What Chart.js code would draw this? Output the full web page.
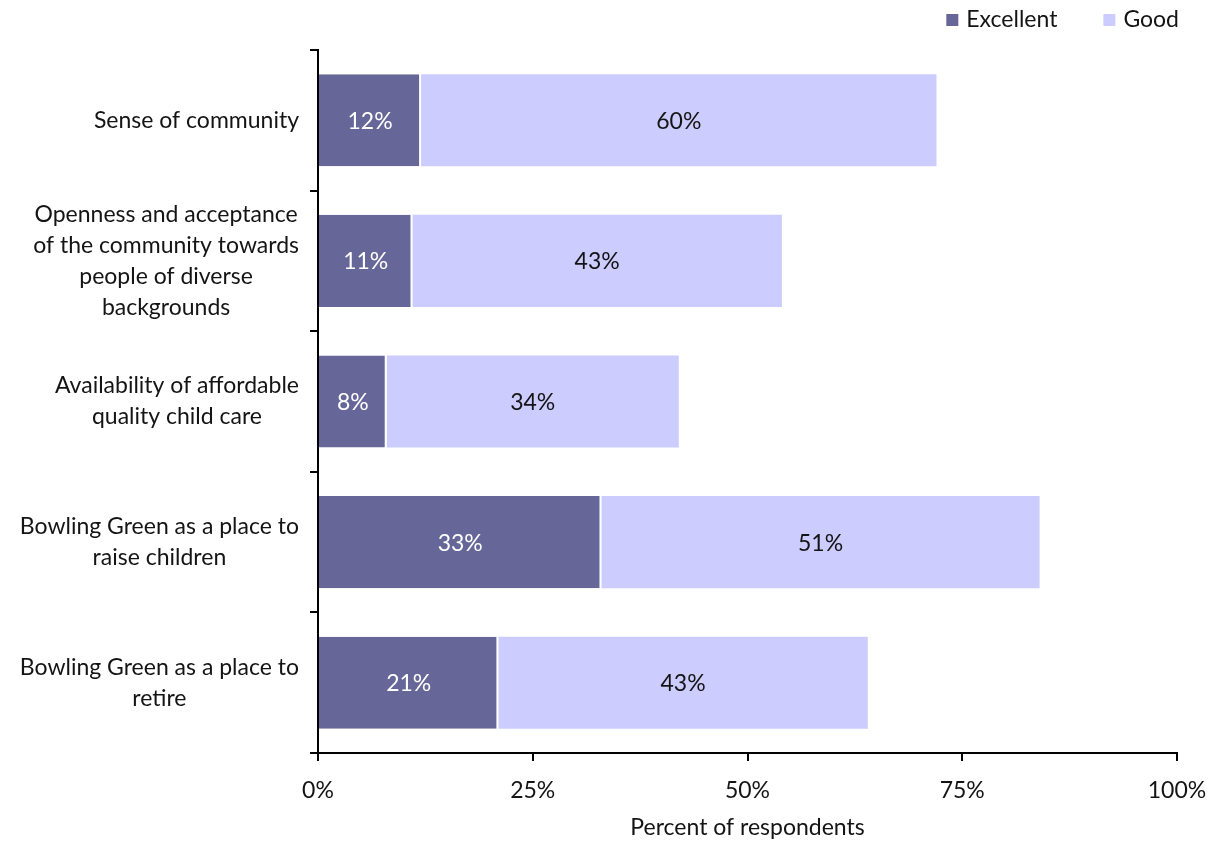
<!DOCTYPE html>
<html>
<head>
<meta charset="utf-8">
<script src="https://cdn.jsdelivr.net/npm/chart.js@4/dist/chart.umd.min.js"></script>
<style>
  html, body { margin: 0; padding: 0; background: #fff; }
  #wrap { width: 1217px; height: 841px; }
</style>
</head>
<body>
<div id="wrap"><canvas id="myChart" width="1217" height="841"></canvas></div>
<script>
const categories = [
  ['Sense of community'],
  ['Openness and acceptance', 'of the community towards', 'people of diverse', 'backgrounds'],
  ['Availability of affordable', 'quality child care'],
  ['Bowling Green as a place to', 'raise children'],
  ['Bowling Green as a place to', 'retire']
];
const excellent = [12, 11, 8, 33, 21];
const good = [60, 43, 34, 51, 43];
const xTicks = [0, 25, 50, 75, 100];

const FONT = 'Lato, "DejaVu Sans", sans-serif';
const SIZE = 23;
const INK = '#141414';

// category labels: block sits against the axis, each line centred inside it
const catLabels = {
  id: 'catLabels',
  afterDraw(chart) {
    const ctx = chart.ctx;
    const y = chart.scales.y;
    const right = chart.chartArea.left - 19;
    const lineH = 31;
    ctx.save();
    ctx.font = SIZE + 'px ' + FONT;
    ctx.fillStyle = INK;
    ctx.textAlign = 'center';
    ctx.textBaseline = 'middle';
    categories.forEach((lines, i) => {
      const w = Math.max(...lines.map(l => ctx.measureText(l).width));
      const cx = right - w / 2;
      const cy = y.getPixelForValue(i);
      lines.forEach((l, k) => {
        ctx.fillText(l, cx, cy + (k - (lines.length - 1) / 2) * lineH);
      });
    });
    ctx.restore();
  }
};

// value labels centred in every segment
const segLabels = {
  id: 'segLabels',
  afterDatasetsDraw(chart) {
    const ctx = chart.ctx;
    ctx.save();
    ctx.font = SIZE + 'px ' + FONT;
    ctx.textAlign = 'center';
    ctx.textBaseline = 'middle';
    chart.data.datasets.forEach((ds, di) => {
      const meta = chart.getDatasetMeta(di);
      ctx.fillStyle = di === 0 ? '#ffffff' : INK;
      meta.data.forEach((bar, i) => {
        const p = bar.getProps(['x', 'y', 'base'], true);
        ctx.fillText(ds.data[i] + '%', (p.x + p.base) / 2, p.y + 1);
      });
    });
    ctx.restore();
  }
};

// legend in the top right corner, items laid out from the right edge
const topLegend = {
  id: 'topLegend',
  afterDraw(chart) {
    const ctx = chart.ctx;
    const box = 12, gapText = 8, gapItem = 46, cy = 20;
    ctx.save();
    ctx.font = SIZE + 'px ' + FONT;
    ctx.textBaseline = 'middle';
    ctx.textAlign = 'left';
    const items = chart.data.datasets.map(ds => ({
      text: ds.label, color: ds.backgroundColor, w: ctx.measureText(ds.label).width
    }));
    let x = 1179 - items.reduce((s, it) => s + box + gapText + it.w, 0) - gapItem * (items.length - 1);
    items.forEach(it => {
      ctx.fillStyle = it.color;
      ctx.fillRect(x, cy - box / 2, box, box);
      ctx.fillStyle = INK;
      ctx.fillText(it.text, x + box + gapText, cy);
      x += box + gapText + it.w + gapItem;
    });
    ctx.restore();
  }
};

new Chart('myChart', {
  type: 'bar',
  data: {
    labels: categories.map(c => c.join(' ')),
    datasets: [{
      label: 'Excellent',
      data: excellent,
      backgroundColor: '#666699',
      borderColor: '#ffffff',
      borderWidth: { right: 2 },
      borderSkipped: false,
      barPercentage: 0.655,
      categoryPercentage: 1
    }, {
      label: 'Good',
      data: good,
      backgroundColor: '#ccccff',
      borderWidth: 0,
      barPercentage: 0.655,
      categoryPercentage: 1
    }]
  },
  options: {
    indexAxis: 'y',
    responsive: false,
    animation: false,
    layout: { padding: { left: 0, right: 40, top: 50, bottom: 0 } },
    plugins: {
      tooltip: { enabled: false },
      legend: { display: false }
    },
    scales: {
      x: {
        stacked: true,
        min: 0,
        max: 100,
        afterBuildTicks(scale) {
          scale.ticks = xTicks.map(v => ({ value: v }));
        },
        afterFit(scale) {
          scale.height = 841 - 753;
          scale.paddingLeft = 0;
          scale.paddingRight = 0;
        },
        border: { display: true, color: '#000', width: 2 },
        grid: { drawOnChartArea: false, drawTicks: true, tickLength: 8, color: '#000', lineWidth: 2 },
        ticks: {
          color: INK,
          font: { family: FONT, size: SIZE },
          padding: 16,
          maxRotation: 0,
          callback: v => v + '%'
        },
        title: {
          display: true,
          text: 'Percent of respondents',
          color: INK,
          font: { family: FONT, size: SIZE },
          padding: { top: 6, bottom: 0 }
        }
      },
      y: {
        stacked: true,
        afterFit(scale) { scale.width = 318; },
        border: { display: true, color: '#000', width: 2 },
        grid: { offset: true, drawOnChartArea: false, drawTicks: true, tickLength: 8, color: '#000', lineWidth: 2 },
        ticks: { display: false }
      }
    }
  },
  plugins: [catLabels, segLabels, topLegend]
});
</script>
</body>
</html>
